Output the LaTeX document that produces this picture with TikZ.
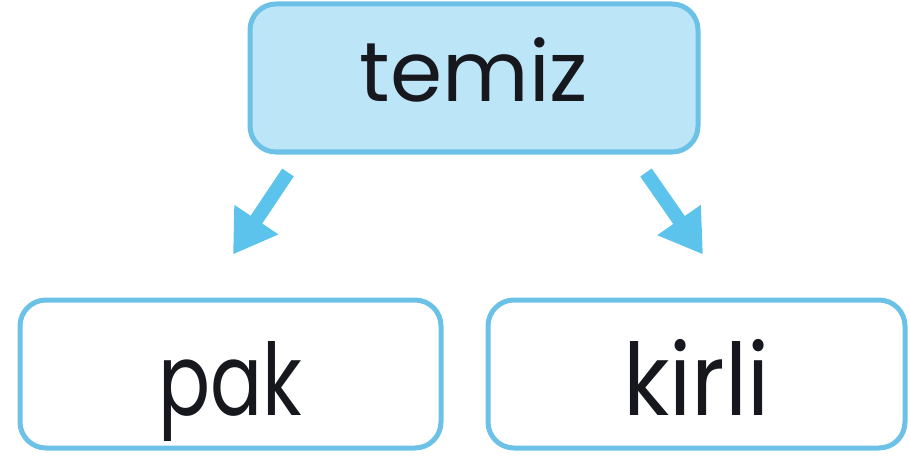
\documentclass[tikz,border=0pt]{standalone}
\usepackage{fontspec}
\usepackage{graphicx}
\setmainfont{Poppins}
\usetikzlibrary{arrows.meta,calc}
\definecolor{edgeblue}{RGB}{108,194,230}
\definecolor{fillblue}{RGB}{188,229,248}
\definecolor{arrowblue}{RGB}{92,196,236}
\definecolor{inkc}{RGB}{22,24,30}
\tikzset{
  wordbox/.style={draw=edgeblue, line width=5pt, rounded corners=26pt,
    inner sep=0pt, text=inkc, align=center},
  topbox/.style={wordbox, fill=fillblue, minimum width=448pt,
    text height=98pt, text depth=50pt, font=\fontsize{84}{84}\selectfont},
  lowbox/.style={wordbox, fill=white, text height=115pt, text depth=33pt,
    font=\fontsize{100}{100}\selectfont},
  arr/.style={draw=arrowblue, line width=14pt,
    -{Triangle[length=42pt,width=50pt]}}
}
\begin{document}
\begin{tikzpicture}[x=1pt,y=-1pt]
\useasboundingbox (0,0) rectangle (910,468);
\node[topbox] (top) at (474,78) {temiz};
\node[lowbox, minimum width=421pt] (pak) at (230.5,374) {\scalebox{0.77}[1]{pak}};
\node[lowbox, minimum width=417pt] (kirli) at (696.5,374) {\scalebox{0.9}[1]{kirli}};
\draw[arr] ($(top.south)+(-186,18)$) -- ($(pak.north)+(2.5,-43)$);
\draw[arr] ($(top.south)+(172,18)$) -- ($(kirli.north)+(6.5,-43)$);
\end{tikzpicture}
\end{document}
